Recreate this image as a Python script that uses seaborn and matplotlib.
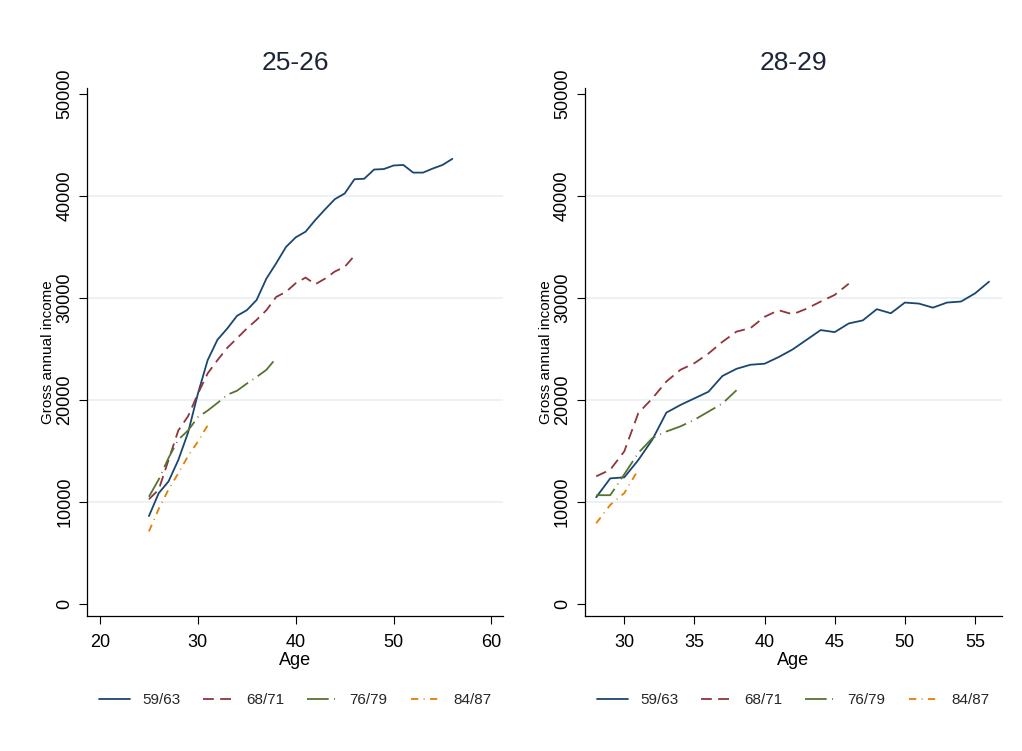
import matplotlib
matplotlib.use("Agg")
import matplotlib.pyplot as plt
import seaborn as sns
import pandas as pd

# ---------------- data ----------------
cohorts = ["59/63", "68/71", "76/79", "84/87"]

# Panel "25-26"
p1_ages_5963 = list(range(25, 57))
p1_inc_5963 = [8600, 10850, 12000, 14100, 16800, 20600, 23900, 25900, 27000, 28250,
               28800, 29800, 31900, 33400, 35000, 35950, 36500, 37650, 38700, 39700,
               40250, 41650, 41700, 42600, 42650, 43000, 43050, 42300, 42300, 42700,
               43050, 43650]
p1_ages_6871 = list(range(25, 47))
p1_inc_6871 = [10250, 11200, 14100, 17000, 18400, 20600, 22600, 23900, 25100, 26050,
               27000, 27850, 28800, 30100, 30600, 31450, 32000, 31350, 31900, 32600,
               33050, 34150]
p1_ages_7679 = list(range(25, 39))
p1_inc_7679 = [10500, 12200, 14300, 16100, 17000, 18300, 18950, 19700, 20500, 20900,
               21600, 22250, 22950, 24100]
p1_ages_8487 = list(range(25, 32))
p1_inc_8487 = [7100, 9300, 11200, 12800, 14500, 15900, 17500]

# Panel "28-29"
p2_ages_5963 = list(range(28, 57))
p2_inc_5963 = [10450, 12300, 12400, 14100, 16100, 18750, 19500, 20150, 20800, 22350,
               23050, 23450, 23550, 24200, 24950, 25900, 26850, 26650, 27500, 27800,
               28900, 28500, 29550, 29450, 29050, 29550, 29650, 30450, 31600]
p2_ages_6871 = list(range(28, 47))
p2_inc_6871 = [12500, 13150, 14950, 18700, 20150, 21800, 22950, 23600, 24550, 25700,
               26700, 27050, 28150, 28800, 28400, 28950, 29650, 30300, 31400]
p2_ages_7679 = list(range(28, 39))
p2_inc_7679 = [10650, 10650, 12700, 14800, 16250, 16900, 17400, 18050, 18850, 19650,
               20950]
p2_ages_8487 = list(range(28, 32))
p2_inc_8487 = [7900, 9700, 10850, 13150]

panel_titles = ["25-26", "28-29"]
x_ticks = [[20, 30, 40, 50, 60], [30, 35, 40, 45, 50, 55]]
y_ticks = [0, 10000, 20000, 30000, 40000, 50000]

panels = [
    [(p1_ages_5963, p1_inc_5963), (p1_ages_6871, p1_inc_6871),
     (p1_ages_7679, p1_inc_7679), (p1_ages_8487, p1_inc_8487)],
    [(p2_ages_5963, p2_inc_5963), (p2_ages_6871, p2_inc_6871),
     (p2_ages_7679, p2_inc_7679), (p2_ages_8487, p2_inc_8487)],
]

# ---------------- style ----------------
sns.set_theme(style="white")
plt.rcParams["font.family"] = ["Liberation Sans", "DejaVu Sans"]

palette = {"59/63": "#1a476f", "68/71": "#90353b", "76/79": "#55752f", "84/87": "#e37e00"}
dashes = {"59/63": "", "68/71": (6, 3.5), "76/79": (12, 3, 0.5, 3), "84/87": (4, 3, 0.5, 3)}

fig = plt.figure(figsize=(10.22, 7.51), dpi=100)
fig.patch.set_facecolor("white")

axes_rects = [[0.0854, 0.1798, 0.407, 0.703], [0.5724, 0.1798, 0.4077, 0.703]]
xlims = [(18.7, 61.2), (27.2, 56.9)]

for i, rect in enumerate(axes_rects):
    ax = fig.add_axes(rect)
    rows = []
    for c, (ages, inc) in zip(cohorts, panels[i]):
        for a, v in zip(ages, inc):
            rows.append({"Age": a, "income": v, "cohort": c})
    df = pd.DataFrame(rows)
    sns.lineplot(data=df, x="Age", y="income", hue="cohort", style="cohort",
                 hue_order=cohorts, style_order=cohorts, palette=palette,
                 dashes=dashes, linewidth=1.3, ax=ax, legend=True)

    ax.set_xlim(*xlims[i])
    ax.set_ylim(-1200, 50600)
    ax.set_xticks(x_ticks[i])
    ax.set_yticks(y_ticks)
    ax.set_yticklabels([str(t) for t in y_ticks])
    ax.set_xticklabels([str(t) for t in x_ticks[i]])
    ax.tick_params(axis="both", which="major", direction="out", length=6, width=0.8,
                   color="black", labelsize=13, labelcolor="black", bottom=True, left=True)
    ax.tick_params(axis="y", pad=4)
    ax.tick_params(axis="x", pad=7)
    for lab in ax.get_yticklabels():
        lab.set_rotation(90)
        lab.set_va("center")
        lab.set_ha("right")

    ax.grid(axis="y", color="#e8eff2", linewidth=1.2)
    ax.grid(axis="x", visible=False)
    gls = ax.get_ygridlines()
    gls[0].set_visible(False)
    gls[-1].set_visible(False)
    ax.set_axisbelow(True)

    for s in ["top", "right"]:
        ax.spines[s].set_visible(False)
    for s in ["left", "bottom"]:
        ax.spines[s].set_color("black")
        ax.spines[s].set_linewidth(0.9)

    ax.set_title(panel_titles[i], fontsize=19, color="#1c2536", pad=13)
    ax.set_xlabel("Age", fontsize=13, labelpad=1, color="black")
    ax.set_ylabel("Gross annual income", fontsize=11, labelpad=1, color="black")

    sns.move_legend(ax, "upper center", bbox_to_anchor=(0.5, -0.12), ncol=4,
                    frameon=False, title=None, fontsize=11, handlelength=2.0,
                    handletextpad=0.8, columnspacing=1.5)

fig.savefig("out.png", dpi=100, facecolor="white")
